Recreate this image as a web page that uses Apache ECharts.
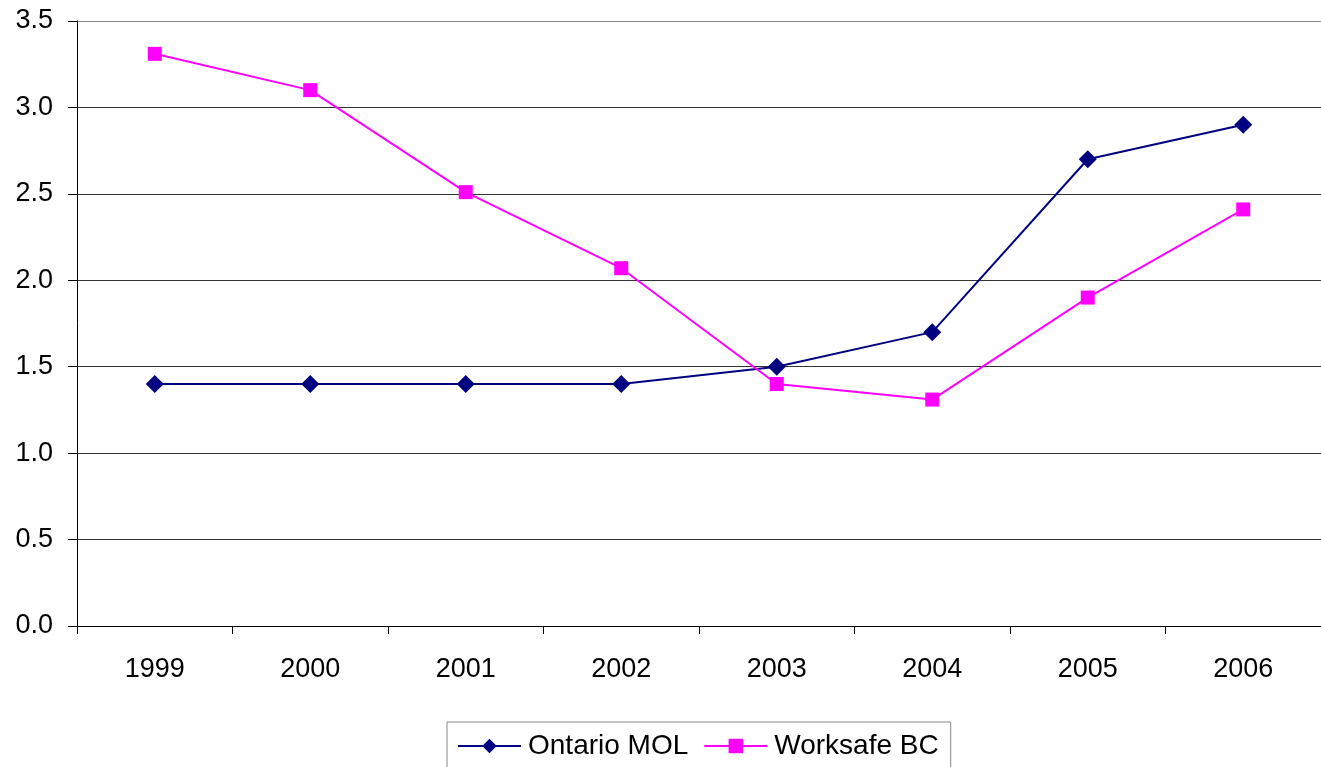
<!DOCTYPE html>
<html><head><meta charset="utf-8">
<script src="https://cdn.jsdelivr.net/npm/echarts@6/dist/echarts.min.js"></script>
<style>html,body{margin:0;padding:0;background:#fff}#c{width:1321px;height:767px}</style>
</head><body><div id="c"></div>
<script>
const categories = ['1999','2000','2001','2002','2003','2004','2005','2006'];
const ontarioMOL = [1.4, 1.4, 1.4, 1.4, 1.5, 1.7, 2.7, 2.9];
const worksafeBC = [3.31, 3.1, 2.51, 2.07, 1.4, 1.31, 1.9, 2.41];
const yTicks = [0, 0.5, 1.0, 1.5, 2.0, 2.5, 3.0, 3.5];

const chart = echarts.init(document.getElementById('c'));
const font = 'Liberation Sans, Arial, sans-serif';
chart.setOption({
  animation: false,
  grid: {left: 77, top: 21, width: 1247, height: 605, containLabel: false},
  xAxis: {
    type: 'category', data: categories, boundaryGap: true,
    axisLine: {lineStyle: {color: '#000', width: 1}},
    axisTick: {show: true, length: 8, lineStyle: {color: '#000'}},
    axisLabel: {color: '#000', fontSize: 27, fontFamily: font, margin: 30}
  },
  yAxis: {
    type: 'value', min: 0, max: 3.5, interval: 0.5,
    axisLine: {show: true, lineStyle: {color: '#000', width: 1}},
    axisTick: {show: true, inside: false, length: 9, lineStyle: {color: '#000'}},
    axisLabel: {color: '#000', fontSize: 27, fontFamily: font, margin: 24,
      formatter: v => yTicks.includes(v) ? v.toFixed(1) : ''},
    splitLine: {show: true, lineStyle: {color: ['#000','#333','#333','#333','#333','#333','#333','#888'], width: 1}}
  },
  legend: {
    top: 722, left: 447,
    data: ['Ontario MOL', 'Worksafe BC'],
    itemWidth: 63, itemHeight: 18, itemGap: 15,
    borderColor: '#888', borderWidth: 1,
    padding: [10, 12, 8, 10],
    textStyle: {color: '#000', fontSize: 28, fontFamily: font, padding: [0, 0, 0, 2]}
  },
  series: [
    {name: 'Ontario MOL', type: 'line', data: ontarioMOL, symbol: 'diamond', symbolSize: 18,
      lineStyle: {color: '#000080', width: 2}, itemStyle: {color: '#000080'}},
    {name: 'Worksafe BC', type: 'line', data: worksafeBC, symbol: 'rect', symbolSize: 14,
      lineStyle: {color: '#FF00FF', width: 2}, itemStyle: {color: '#FF00FF'}}
  ]
});
</script></body></html>
